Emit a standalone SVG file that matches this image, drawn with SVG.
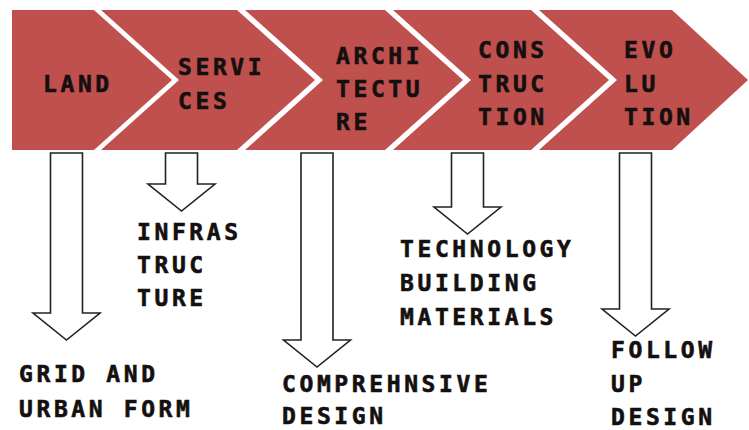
<svg xmlns="http://www.w3.org/2000/svg" width="749" height="430" viewBox="0 0 749 430">
  <style>
    .stage { fill: #C0504D; }
    .lbl { font-family: "DejaVu Sans Mono", "Liberation Mono", monospace; font-weight: bold; font-size: 23px; letter-spacing: 3.6px; fill: #141010; stroke: #141010; stroke-width: 0.6px; }
    .arrow { fill: #ffffff; stroke: #222222; stroke-width: 1.6; stroke-linejoin: miter; }
  </style>
  <rect x="0" y="0" width="749" height="430" fill="#ffffff"/>

  <!-- process stages -->
  <g id="stage-land">
    <polygon class="stage" points="12,10 94,10 172,80 94,150 12,150"/>
    <text class="lbl" x="43" y="92">LAND</text>
  </g>
  <g id="stage-services">
    <polygon class="stage" points="101,10 237,10 315,80 237,150 101,150 179,80"/>
    <text class="lbl" x="178" y="75">SERVI</text>
    <text class="lbl" x="178" y="109">CES</text>
  </g>
  <g id="stage-architecture">
    <polygon class="stage" points="245,10 385,10 463,80 385,150 245,150 323,80"/>
    <text class="lbl" x="336" y="64">ARCHI</text>
    <text class="lbl" x="336" y="97">TECTU</text>
    <text class="lbl" x="336" y="130">RE</text>
  </g>
  <g id="stage-construction">
    <polygon class="stage" points="393,10 531,10 609,80 531,150 393,150 471,80"/>
    <text class="lbl" x="478" y="58">CONS</text>
    <text class="lbl" x="478" y="92">TRUC</text>
    <text class="lbl" x="478" y="125">TION</text>
  </g>
  <g id="stage-evolution">
    <polygon class="stage" points="539,10 672,10 748,80 672,150 539,150 617,80"/>
    <text class="lbl" x="624" y="58">EVO</text>
    <text class="lbl" x="624" y="92">LU</text>
    <text class="lbl" x="624" y="125">TION</text>
  </g>

  <!-- block arrows from each stage down to its outcome -->
  <g id="connectors">
    <polygon class="arrow" points="50.5,153 82.5,153 82.5,313 100,313 66.5,340 33,313 50.5,313"/>
    <polygon class="arrow" points="165.5,153 197.5,153 197.5,184 215,184 181.5,211 148,184 165.5,184"/>
    <polygon class="arrow" points="301,153 333,153 333,340 350.5,340 317,367 283.5,340 301,340"/>
    <polygon class="arrow" points="451.5,153 483.5,153 483.5,207 501,207 467.5,234 434,207 451.5,207"/>
    <polygon class="arrow" points="619.5,153 651.5,153 651.5,309 669,309 635.5,336 602,309 619.5,309"/>
  </g>

  <!-- outcomes -->
  <g id="outcome-grid">
    <text class="lbl" x="19" y="382">GRID AND</text>
    <text class="lbl" x="19" y="417">URBAN FORM</text>
  </g>
  <g id="outcome-infrastructure">
    <text class="lbl" x="137" y="240">INFRAS</text>
    <text class="lbl" x="137" y="273">TRUC</text>
    <text class="lbl" x="137" y="306">TURE</text>
  </g>
  <g id="outcome-design">
    <text class="lbl" x="282" y="392">COMPREHNSIVE</text>
    <text class="lbl" x="282" y="424">DESIGN</text>
  </g>
  <g id="outcome-technology">
    <text class="lbl" x="400" y="257">TECHNOLOGY</text>
    <text class="lbl" x="400" y="291">BUILDING</text>
    <text class="lbl" x="400" y="325">MATERIALS</text>
  </g>
  <g id="outcome-follow-up">
    <text class="lbl" x="611" y="358">FOLLOW</text>
    <text class="lbl" x="611" y="392">UP</text>
    <text class="lbl" x="611" y="425">DESIGN</text>
  </g>
</svg>
